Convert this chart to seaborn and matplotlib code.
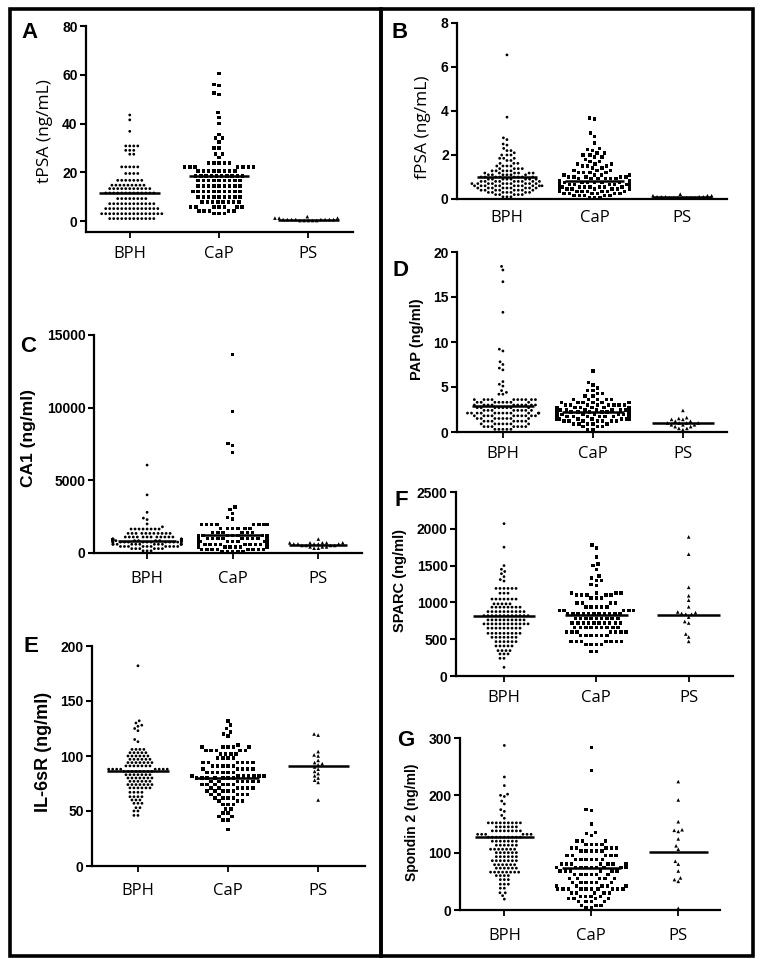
import matplotlib
matplotlib.use("Agg")
import matplotlib.pyplot as plt
import seaborn as sns
from matplotlib.patches import Rectangle

sns.set_style("white")
plt.rcParams["font.family"] = ["Liberation Sans", "DejaVu Sans"]
for k in ["text.color", "axes.edgecolor", "axes.labelcolor", "xtick.color", "ytick.color"]:
    plt.rcParams[k] = "black"

groups = ["BPH", "CaP", "PS"]

# ---- A: tPSA (ng/mL) ----
tpsa_bph = [43.5, 41.5, 36.8,
            30.8, 30.8, 30.8, 30.8, 29.0, 29.0, 29.0, 27.4, 27.4,
            22.2, 22.2, 22.2, 22.2, 22.2, 19.5, 19.5, 19.5, 19.5,
            16.7, 16.7, 16.7, 16.7, 16.7, 16.7, 16.7,
            14.7, 14.7, 14.7, 14.7, 14.7, 14.7, 14.7, 14.7, 14.7,
            13.3, 13.3, 13.3, 13.3, 13.3, 13.3, 13.3, 13.3, 13.3, 13.3, 13.3,
            11.5, 11.5, 11.5, 11.5, 11.5, 11.5, 11.5, 11.5, 11.5, 11.5, 11.5, 11.5, 11.5,
            9.2, 9.2, 9.2, 9.2, 9.2, 9.2, 9.2, 9.2,
            7.1, 7.1, 7.1, 7.1, 7.1, 7.1, 7.1, 7.1, 7.1, 7.1, 7.1, 7.1,
            5.1, 5.1, 5.1, 5.1, 5.1, 5.1, 5.1, 5.1, 5.1, 5.1, 5.1, 5.1, 5.1, 5.1,
            3.0, 3.0, 3.0, 3.0, 3.0, 3.0, 3.0, 3.0, 3.0, 3.0, 3.0, 3.0, 3.0, 3.0, 3.0, 3.0,
            1.0, 1.0, 1.0, 1.0, 1.0, 1.0, 1.0, 1.0, 1.0, 1.0, 1.0, 1.0]
tpsa_cap = [60.5, 56.0, 55.5, 52.5, 51.8, 44.5, 42.5, 40.0,
            35.5, 34.0, 34.0, 32.5, 30.0, 30.0, 27.5, 27.5, 26.0,
            23.8, 23.8, 23.8, 23.8, 23.8,
            22.2, 22.2, 22.2, 22.2, 22.2, 22.2, 22.2,
            20.5, 20.5, 20.5, 20.5, 20.5, 20.5, 20.5, 20.5,
            18.5, 18.5, 18.5, 18.5, 18.5, 18.5, 18.5, 18.5, 18.5, 18.5,
            16.7, 16.7, 16.7, 16.7, 16.7, 16.7, 16.7, 16.7, 16.7,
            14.4, 14.4, 14.4, 14.4, 14.4, 14.4, 14.4, 14.4, 14.4,
            12.2, 12.2, 12.2, 12.2, 12.2, 12.2, 12.2, 12.2, 12.2, 12.2,
            9.9, 9.9, 9.9, 9.9, 9.9, 9.9, 9.9, 9.9, 9.9,
            7.8, 7.8, 7.8, 7.8, 7.8, 7.8, 7.8, 7.8,
            5.8, 5.8, 5.8, 5.8, 5.8, 5.8, 5.8,
            4.1, 4.1, 4.1, 4.1, 4.1, 3.0, 3.0, 3.0]
tpsa_ps = [1.8, 1.2, 1.2, 1.2, 0.6, 0.6, 0.6, 0.6, 0.6, 0.6, 0.6, 0.6,
           0.2, 0.2, 0.2, 0.2, 0.2]
tpsa_mid = [11.5, 18.5, 0.5]

# ---- B: fPSA (ng/mL) ----
fpsa_bph = [6.55, 3.72, 2.78, 2.7, 2.5, 2.45, 2.3, 2.2, 2.2, 2.1, 2.0, 2.0, 2.0,
            1.85, 1.85, 1.85, 1.75, 1.75, 1.62, 1.62, 1.62, 1.5, 1.5, 1.5, 1.5,
            1.38, 1.38, 1.38, 1.38, 1.28, 1.28, 1.28, 1.28, 1.28,
            1.18, 1.18, 1.18, 1.18, 1.18, 1.18, 1.1, 1.1, 1.1, 1.1, 1.1, 1.1,
            1.0, 1.0, 1.0, 1.0, 1.0, 1.0, 1.0, 1.0,
            0.9, 0.9, 0.9, 0.9, 0.9, 0.9, 0.9, 0.9,
            0.8, 0.8, 0.8, 0.8, 0.8, 0.8, 0.8, 0.8, 0.8,
            0.7, 0.7, 0.7, 0.7, 0.7, 0.7, 0.7, 0.7, 0.7, 0.7,
            0.6, 0.6, 0.6, 0.6, 0.6, 0.6, 0.6, 0.6, 0.6, 0.6, 0.6,
            0.5, 0.5, 0.5, 0.5, 0.5, 0.5, 0.5, 0.5, 0.5,
            0.4, 0.4, 0.4, 0.4, 0.4, 0.4, 0.4, 0.4,
            0.3, 0.3, 0.3, 0.3, 0.3, 0.3, 0.3,
            0.2, 0.2, 0.2, 0.2, 0.2, 0.1, 0.1, 0.1]
fpsa_cap = [3.68, 3.63, 3.0, 2.85, 2.55, 2.3, 2.25, 2.2, 2.1, 2.1, 2.0, 2.0,
            1.9, 1.9, 1.8, 1.7, 1.7, 1.6, 1.6, 1.6, 1.5, 1.5, 1.5,
            1.4, 1.4, 1.3, 1.3, 1.3, 1.2, 1.2, 1.2, 1.2,
            1.1, 1.1, 1.1, 1.1, 1.0, 1.0, 1.0, 1.0, 1.0,
            0.92, 0.92, 0.92, 0.92, 0.92, 0.92,
            0.83, 0.83, 0.83, 0.83, 0.83, 0.83, 0.83, 0.83,
            0.75, 0.75, 0.75, 0.75, 0.75, 0.75, 0.75, 0.75,
            0.65, 0.65, 0.65, 0.65, 0.65, 0.65, 0.65, 0.65, 0.65, 0.65,
            0.55, 0.55, 0.55, 0.55, 0.55, 0.55, 0.55, 0.55, 0.55, 0.55,
            0.45, 0.45, 0.45, 0.45, 0.45, 0.45, 0.45, 0.45,
            0.35, 0.35, 0.35, 0.35, 0.35, 0.35, 0.35,
            0.25, 0.25, 0.25, 0.25, 0.25, 0.25,
            0.15, 0.15, 0.15, 0.15, 0.15, 0.05, 0.05, 0.05]
fpsa_ps = [0.22, 0.15, 0.15, 0.15, 0.1, 0.1, 0.1, 0.1, 0.1,
           0.06, 0.06, 0.06, 0.06, 0.06, 0.06, 0.06]
fpsa_mid = [1.02, 0.83, 0.08]

# ---- C: CA1 (ng/ml) ----
ca1_bph = [6050, 4000, 2800, 2400, 2300, 2000, 1800,
           1650, 1650, 1650, 1650, 1650, 1650, 1650, 1650,
           1350, 1350, 1350, 1350, 1350, 1350, 1350, 1350, 1350, 1350, 1350,
           1100, 1100, 1100, 1100, 1100, 1100, 1100, 1100, 1100, 1100, 1100, 1100,
           950, 950, 950, 950, 950, 950, 950, 950, 950, 950, 950, 950, 950, 950,
           850, 850, 850, 850, 850, 850, 850, 850, 850, 850, 850, 850, 850, 850,
           750, 750, 750, 750, 750, 750, 750, 750, 750, 750, 750, 750, 750,
           600, 600, 600, 600, 600, 600, 600, 600, 600, 600, 600, 600,
           450, 450, 450, 450, 450, 450, 450, 450, 450, 450,
           300, 300, 300, 300, 300, 300, 150, 150, 150]
ca1_cap = [13650, 9750, 7550, 7400, 6900, 3150, 3000, 2700, 2450, 2350,
           1950, 1950, 1950, 1950, 1950, 1950, 1950, 1950,
           1700, 1700, 1700, 1700, 1700, 1700,
           1400, 1400, 1400, 1400, 1400, 1400,
           1200, 1200, 1200, 1200, 1200, 1200, 1200, 1200, 1200, 1200, 1200, 1200,
           1000, 1000, 1000, 1000, 1000, 1000, 1000, 1000, 1000, 1000, 1000, 1000,
           800, 800, 800, 800, 800, 800, 800, 800, 800, 800, 800, 800,
           600, 600, 600, 600, 600, 600, 600, 600, 600, 600, 600, 600,
           400, 400, 400, 400, 400, 400, 400, 400, 400, 400,
           250, 250, 250, 250, 250, 250, 250, 250,
           100, 100, 100, 100, 100]
ca1_ps = [960, 700, 700, 700, 700, 700, 620, 620, 620, 620, 620,
          520, 520, 520, 520, 420, 420, 420, 330, 330]
ca1_mid = [850, 1240, 570]

# ---- D: PAP (ng/ml) ----
pap_bph = [18.4, 18.0, 16.7, 13.3, 9.2, 9.0, 7.8, 7.5, 7.1, 6.9, 5.6, 5.3, 5.1,
           4.6, 4.4, 4.2, 4.2,
           3.6, 3.6, 3.6, 3.6, 3.6, 3.6, 3.6, 3.6, 3.6, 3.6,
           3.3, 3.3, 3.3, 3.3, 3.3, 3.3, 3.3, 3.3,
           3.0, 3.0, 3.0, 3.0, 3.0, 3.0, 3.0, 3.0, 3.0, 3.0,
           2.7, 2.7, 2.7, 2.7, 2.7, 2.7, 2.7, 2.7,
           2.4, 2.4, 2.4, 2.4, 2.4, 2.4, 2.4, 2.4,
           2.1, 2.1, 2.1, 2.1, 2.1, 2.1, 2.1, 2.1, 2.1, 2.1, 2.1, 2.1,
           1.8, 1.8, 1.8, 1.8, 1.8, 1.8, 1.8, 1.8, 1.8, 1.8,
           1.5, 1.5, 1.5, 1.5, 1.5, 1.5, 1.5, 1.5,
           1.2, 1.2, 1.2, 1.2, 1.2, 1.2, 1.2,
           0.9, 0.9, 0.9, 0.9, 0.9, 0.9, 0.9,
           0.6, 0.6, 0.6, 0.6, 0.6, 0.6, 0.6,
           0.3, 0.3, 0.3, 0.3, 0.3]
pap_cap = [6.8, 5.5, 5.2, 4.9, 4.6, 4.6, 4.3, 4.3, 4.0, 4.0,
           3.6, 3.6, 3.6, 3.6, 3.6, 3.3, 3.3, 3.3, 3.3, 3.3, 3.3,
           3.0, 3.0, 3.0, 3.0, 3.0, 3.0, 3.0, 3.0,
           2.7, 2.7, 2.7, 2.7, 2.7, 2.7, 2.7, 2.7, 2.7, 2.7,
           2.45, 2.45, 2.45, 2.45, 2.45, 2.45, 2.45, 2.45, 2.45, 2.45, 2.45,
           2.2, 2.2, 2.2, 2.2, 2.2, 2.2, 2.2, 2.2, 2.2, 2.2, 2.2, 2.2,
           1.95, 1.95, 1.95, 1.95, 1.95, 1.95, 1.95, 1.95, 1.95, 1.95, 1.95, 1.95,
           1.7, 1.7, 1.7, 1.7, 1.7, 1.7, 1.7, 1.7, 1.7, 1.7,
           1.45, 1.45, 1.45, 1.45, 1.45, 1.45, 1.45, 1.45, 1.45,
           1.2, 1.2, 1.2, 1.2, 1.2, 1.2, 1.2,
           0.9, 0.9, 0.9, 0.9, 0.9, 0.6, 0.6, 0.6, 0.3, 0.3]
pap_ps = [2.4, 1.6, 1.5, 1.4, 1.4, 1.2, 1.2, 1.0, 1.0, 1.0, 1.0,
          0.8, 0.8, 0.8, 0.6, 0.6, 0.4, 0.4, 0.25]
pap_mid = [2.9, 2.2, 1.0]

# ---- F: SPARC (ng/ml) ----
sparc_bph = [2070, 1750, 1500, 1450, 1420, 1390, 1350, 1310, 1290,
             1190, 1190, 1190, 1190, 1190, 1190, 1125, 1125, 1125,
             1045, 1045, 1045, 1045, 1045, 1045, 1045,
             980, 980, 980, 980, 980,
             935, 935, 935, 935, 935, 935, 935, 935,
             875, 875, 875, 875, 875, 875, 875, 875, 875, 875,
             820, 820, 820, 820, 820, 820, 820, 820, 820, 820, 820, 820,
             762, 762, 762, 762, 762, 762, 762, 762, 762, 762,
             708, 708, 708, 708, 708, 708, 708, 708, 708, 708, 708, 708,
             650, 650, 650, 650, 650, 650, 650, 650, 650,
             580, 580, 580, 580, 580, 580, 580, 580, 580,
             526, 526, 526, 526, 526, 526, 526,
             467, 467, 467, 467, 467, 467,
             408, 408, 408, 408, 408, 345, 345, 345, 345,
             300, 300, 300, 240, 240, 118]
sparc_cap = [1780, 1740, 1620, 1520, 1500, 1450, 1360, 1330, 1300, 1300, 1240, 1230,
             1130, 1130, 1130, 1130, 1100, 1100, 1100, 1100, 1100,
             1060, 1060, 1060, 990, 990, 990, 990,
             940, 940, 940, 940, 940,
             890, 890, 890, 890, 890, 890, 890, 890, 890, 890,
             840, 840, 840, 840, 840, 840, 840, 840, 840, 840, 840,
             780, 780, 780, 780, 780, 780, 780, 780, 780,
             720, 720, 720, 720, 720, 720, 720, 720, 720, 720,
             660, 660, 660, 660, 660, 660, 660, 660, 660,
             600, 600, 600, 600, 600, 600, 600,
             550, 550, 550, 550, 550, 550,
             470, 470, 470, 470, 470, 470, 470,
             430, 430, 430, 430, 330, 330]
sparc_ps = [1890, 1655, 1205, 1090, 1030, 940, 870, 860, 850, 840, 840,
            800, 740, 720, 570, 530, 470]
sparc_mid = [820, 835, 835]

# ---- E: IL-6sR (ng/ml) ----
il6_bph = [182, 132, 130, 128, 127, 125, 123, 115, 113,
           106, 106, 106, 106, 103, 103, 103, 103, 103,
           100, 100, 100, 100, 100, 100, 97, 97, 97, 97, 97, 97,
           94, 94, 94, 94, 94, 94, 94, 91, 91, 91, 91, 91, 91, 91,
           88, 88, 88, 88, 88, 88, 88, 88, 86, 86, 86, 86, 86, 86, 86, 86,
           83, 83, 83, 83, 83, 83, 83, 80, 80, 80, 80, 80, 80, 80,
           77, 77, 77, 77, 77, 77, 74, 74, 74, 74, 74, 74, 74,
           71, 71, 71, 71, 71, 71, 67, 67, 67, 67, 63, 63, 63, 63,
           60, 60, 60, 57, 57, 57, 53, 53, 50, 50, 46, 46]
il6_cap = [132, 128, 125, 122, 120, 118, 110,
           108, 108, 108, 108, 108, 105, 105, 105, 105, 105,
           102, 102, 102, 102, 98, 98, 98, 98,
           94, 94, 94, 94, 94, 94, 91, 91, 91, 91, 91,
           88, 88, 88, 88, 88, 85, 85, 85, 85, 85, 85,
           82, 82, 82, 82, 82, 82, 82, 80, 80, 80, 80, 80, 80, 80,
           77, 77, 77, 77, 77, 77, 77, 74, 74, 74, 74, 74, 74,
           71, 71, 71, 71, 71, 71, 68, 68, 68, 68, 68,
           65, 65, 65, 65, 65, 62, 62, 62, 62,
           59, 59, 59, 56, 56, 56, 52, 52, 48, 48, 45, 45, 42, 42, 33]
il6_ps = [120, 119, 104, 101, 100, 96, 94, 93, 92, 90, 88, 86, 84, 82, 80, 78, 76, 60]
il6_mid = [86, 80, 91]

# ---- G: Spondin 2 (ng/ml) ----
spon_bph = [287, 232, 217, 202, 200, 198, 190, 185, 175, 172, 165, 160,
            152, 152, 152, 152, 152, 152, 152, 152, 152,
            145, 145, 145, 145, 145, 145,
            138, 138, 138, 138, 138, 138, 138, 138,
            132, 132, 132, 132, 132, 132,
            127, 127, 127, 127, 127, 127, 127, 127, 127,
            120, 120, 120, 120, 120, 120, 120,
            113, 113, 113, 113, 113, 113,
            106, 106, 106, 106, 106, 106, 106,
            100, 100, 100, 100, 100, 100,
            93, 93, 93, 93, 93, 93,
            86, 86, 86, 86, 86, 86, 86,
            79, 79, 79, 79, 79, 79,
            73, 73, 73, 73, 73, 73,
            66, 66, 66, 66, 66, 66, 66, 66,
            60, 60, 60, 60, 53, 53, 53, 45, 45, 45, 38, 38, 30, 30, 25, 19]
spon_cap = [283, 243, 175, 174, 150, 135, 133, 130,
            120, 120, 120, 114, 114, 114, 114, 108, 108, 108, 108, 108,
            103, 103, 103, 103, 103, 95, 95, 95, 95, 95,
            88, 88, 88, 88, 88, 88, 80, 80, 80, 80, 80, 80, 80,
            74, 74, 74, 74, 74, 74, 74, 74, 74,
            68, 68, 68, 68, 68, 68, 62, 62, 62, 62, 62, 62,
            55, 55, 55, 55, 55, 48, 48, 48, 48, 48, 48,
            42, 42, 42, 42, 42,
            37, 37, 37, 37, 37, 37, 37, 37, 37, 37,
            30, 30, 30, 30, 30, 24, 24, 24, 24,
            20, 20, 20, 20, 15, 15, 15, 15, 8, 8, 8, 4, 4]
spon_ps = [224, 192, 154, 140, 139, 137, 124, 112, 106, 85, 80, 68, 56, 53, 50, 3]
spon_mid = [127, 74, 102]

W, H = 763, 959
fig = plt.figure(figsize=(W / 100, H / 100), dpi=100)


def add_panel(box, xlim, ylim, yticks, data, mids, pad, xtick_len=4):
    x0, x1, ytop, ybot = box
    ax = fig.add_axes([x0 / W, 1 - ybot / H, (x1 - x0) / W, (ybot - ytop) / H])
    styles = [("o", 2.0, 0.75), ("s", 2.5, 1.1), ("^", 2.6, 0.3)]
    for g, vals, (m, sz, lw) in zip(groups, data, styles):
        sns.swarmplot(x=[g] * len(vals), y=vals, order=groups, ax=ax,
                      color="black", marker=m, size=sz, linewidth=lw,
                      edgecolor="none", warn_thresh=1)
    for i, v in enumerate(mids):
        ax.hlines(v, i - 0.34, i + 0.34, color="black", lw=1.8, zorder=5)
    ax.set_xlim(*xlim)
    ax.set_ylim(*ylim)
    ax.set_yticks(yticks, labels=[str(v) for v in yticks])
    ax.set_xticks(range(len(groups)), labels=groups)
    plt.setp(ax.get_yticklabels(), fontweight="bold", fontsize=10)
    plt.setp(ax.get_xticklabels(), family="Open Sans", fontsize=12)
    ax.set_xlabel("")
    ax.set_ylabel("")
    sns.despine(ax=ax)
    for s in ["left", "bottom"]:
        ax.spines[s].set_linewidth(1.6)
    ax.tick_params(axis="y", left=True, direction="out", length=4, width=1.5, pad=2)
    ax.tick_params(axis="x", bottom=True, direction="out", length=xtick_len, width=1.3, pad=pad)
    return ax


add_panel((86, 353, 26, 232), (-0.49, 2.5), (-4.5, 80), [0, 20, 40, 60, 80],
          [tpsa_bph, tpsa_cap, tpsa_ps], tpsa_mid, 6)
add_panel((457, 727, 23, 199), (-0.57, 2.51), (0, 8), [0, 2, 4, 6, 8],
          [fpsa_bph, fpsa_cap, fpsa_ps], fpsa_mid, 8, xtick_len=0)
add_panel((94, 362, 335, 553), (-0.62, 2.51), (0, 15000), [0, 5000, 10000, 15000],
          [ca1_bph, ca1_cap, ca1_ps], ca1_mid, 9)
add_panel((457, 727, 252, 432), (-0.51, 2.49), (0, 20), [0, 5, 10, 15, 20],
          [pap_bph, pap_cap, pap_ps], pap_mid, 6)
add_panel((456, 733, 492, 676), (-0.52, 2.48), (0, 2500), [0, 500, 1000, 1500, 2000, 2500],
          [sparc_bph, sparc_cap, sparc_ps], sparc_mid, 6)
add_panel((92, 365, 646, 866), (-0.51, 2.52), (0, 200), [0, 50, 100, 150, 200],
          [il6_bph, il6_cap, il6_ps], il6_mid, 8)
add_panel((460, 720, 738, 910), (-0.51, 2.48), (0, 300), [0, 100, 200, 300],
          [spon_bph, spon_cap, spon_ps], spon_mid, 9)

# y labels
ylabels = [("tPSA (ng/mL)", 45, 131, 12.5, "normal", "Open Sans"),
           ("fPSA (ng/mL)", 423, 127, 12.5, "normal", "Open Sans"),
           ("CA1 (ng/ml)", 28, 438, 12.5, "bold", "Liberation Sans"),
           ("PAP (ng/ml)", 417, 339, 10.5, "bold", "Liberation Sans"),
           ("SPARC (ng/ml)", 400, 580, 10.5, "bold", "Liberation Sans"),
           ("IL-6sR (ng/ml)", 43, 752, 13, "bold", "Liberation Sans"),
           ("Spondin 2 (ng/ml)", 412, 822, 10, "bold", "Liberation Sans")]
for txt, px, py, fs, fw, ff in ylabels:
    fig.text(px / W, 1 - py / H, txt, rotation=90, ha="center", va="center",
             fontsize=fs, fontweight=fw, family=ff)

# panel letters
letters = [("A", 30, 32), ("B", 400, 33), ("C", 28, 347), ("D", 401, 270),
           ("F", 401, 501), ("E", 31, 647), ("G", 406, 740)]
for txt, px, py in letters:
    fig.text(px / W, 1 - py / H, txt, ha="center", va="center",
             fontsize=16, fontweight="bold")

# frames
for x0, x1 in [(10, 380.5), (380.5, 753)]:
    fig.add_artist(Rectangle((x0 / W, 1 - 956 / H), (x1 - x0) / W, (956 - 9) / H,
                             transform=fig.transFigure, fill=False,
                             edgecolor="black", lw=2.6))

fig.savefig("out.png", dpi=100)
